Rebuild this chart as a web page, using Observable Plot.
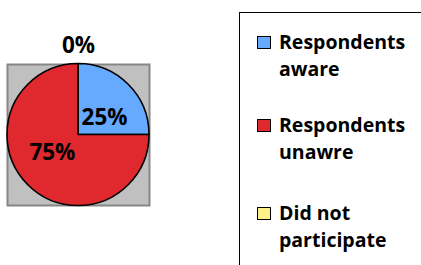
<!DOCTYPE html>
<html>
<head>
<meta charset="utf-8">
<script src="https://cdn.jsdelivr.net/npm/d3@7"></script>
<script src="https://cdn.jsdelivr.net/npm/@observablehq/plot@0.6"></script>
<style>
  html, body { margin: 0; padding: 0; background: #fff; }
  #wrap { position: relative; width: 421px; height: 265px; overflow: hidden; font-family: "Open Sans", sans-serif; }
  #legend { position: absolute; left: 239px; top: 12px; width: 200px; height: 280px; border: 1px solid #000; box-sizing: border-box; }
  .item { position: absolute; left: 39px; font-weight: 700; font-size: 19.5px; line-height: 27px; color: #000; }
  .sw { position: absolute; left: -22px; top: 8px; width: 12px; height: 11px; border: 1.5px solid #000; }
</style>
</head>
<body>
<div id="wrap"></div>
<script>
const categories = ["Respondents aware", "Respondents unawre", "Did not participate"];
const legendLines = [["Respondents", "aware"], ["Respondents", "unawre"], ["Did not", "participate"]];
const values = [25, 75, 0];
const colors = ["#66aaff", "#e0282f", "#fff08a"];

const rows = categories.map((c, i) => ({category: c, value: values[i], color: colors[i]}));
const arcs = d3.pie().sort(null).value(d => d.value)(rows);
arcs.forEach(a => { a.mid = (a.startAngle + a.endAngle) / 2; });

const pieMark = (index, scales) => {
  const {x, y} = scales;
  const cx = x(0), cy = y(0), r = x(1) - x(0);
  const g = d3.create("svg:g").attr("transform", `translate(${cx},${cy})`);
  g.selectAll("path").data(arcs.filter(a => a.data.value > 0)).join("path")
    .attr("d", d3.arc().innerRadius(0).outerRadius(r))
    .attr("fill", a => a.data.color)
    .attr("stroke", "#000")
    .attr("stroke-width", 1.6)
    .attr("stroke-linejoin", "round");
  return g.node();
};

const chart = Plot.plot({
  width: 421,
  height: 265,
  marginLeft: 7,
  marginRight: 272,
  marginTop: 64,
  marginBottom: 60,
  x: {domain: [-1, 1], axis: null},
  y: {domain: [-1, 1], axis: null},
  style: {background: "transparent", overflow: "visible"},
  marks: [
    Plot.frame({fill: "#c0c0c0", stroke: "#868686", strokeWidth: 2}),
    pieMark,
    Plot.text(arcs, {
      x: a => a.data.value === 0 ? 1.27 * Math.sin(a.mid) : 0.52 * Math.sin(a.mid),
      y: a => a.data.value === 0 ? 1.27 * Math.cos(a.mid) : 0.35 * Math.cos(a.mid),
      text: a => a.data.value + "%",
      fontSize: 22.5,
      fontWeight: 700,
      fontFamily: "Open Sans",
      fill: "#000",
      clip: false
    })
  ]
});

const wrap = document.getElementById("wrap");
wrap.appendChild(chart);
const legend = document.createElement("div");
legend.id = "legend";
const tops = [15, 98, 186];
legendLines.forEach((lines, i) => {
  const it = document.createElement("div");
  it.className = "item";
  it.style.top = tops[i] + "px";
  const sw = document.createElement("div");
  sw.className = "sw";
  sw.style.background = colors[i];
  it.appendChild(sw);
  lines.forEach(l => {
    const d = document.createElement("div");
    d.textContent = l;
    it.appendChild(d);
  });
  legend.appendChild(it);
});
wrap.appendChild(legend);
</script>
</body>
</html>
